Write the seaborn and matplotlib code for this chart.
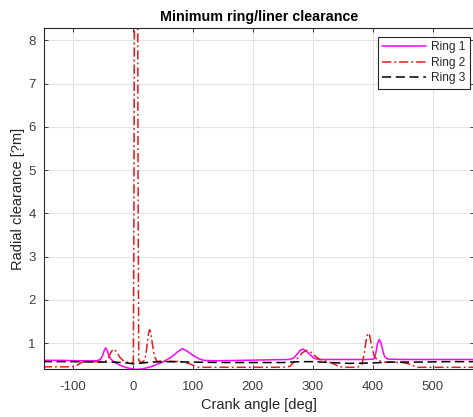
import matplotlib
matplotlib.use("Agg")
import matplotlib.pyplot as plt
import seaborn as sns
import pandas as pd

# ---- data ----
ring1_x = [-150, -120, -90, -60, -54, -50, -47, -45, -43, -40, -36, -30, -20, -10, 0, 5, 15, 30, 50, 65, 75, 83, 90, 100, 110, 118,
           140, 180, 220, 260, 268, 274, 279, 283, 288, 295, 302, 310, 350, 390, 402, 405, 408, 411, 414, 417, 420, 425, 450, 500, 580]
ring1_y = [0.60, 0.60, 0.59, 0.59, 0.62, 0.72, 0.85, 0.89, 0.84, 0.72, 0.62, 0.55, 0.48, 0.43, 0.40, 0.39, 0.40, 0.45, 0.56, 0.68, 0.80, 0.87, 0.82, 0.72, 0.64, 0.60,
           0.59, 0.60, 0.61, 0.62, 0.65, 0.74, 0.83, 0.86, 0.83, 0.74, 0.65, 0.62, 0.62, 0.62, 0.63, 0.75, 0.98, 1.08, 1.00, 0.82, 0.68, 0.63, 0.62, 0.62, 0.62]

ring2_x = [-150, -110, -95, -88, -82, -60, -45, -40, -35, -31, -27, -22, -15, -5, 1, 2, 3, 5.5, 8, 9, 10, 14, 20, 23, 26, 28, 30, 33, 36, 40,
           60, 80, 95, 103, 110, 180, 250, 262, 268, 275, 283, 290, 296, 304, 312, 325, 335, 342, 350, 375, 382, 386, 389, 392, 395, 398, 402, 408,
           420, 450, 460, 468, 475, 580]
ring2_y = [0.45, 0.45, 0.46, 0.53, 0.57, 0.57, 0.58, 0.68, 0.82, 0.86, 0.80, 0.68, 0.58, 0.54, 0.55, 4.0, 10.0, 14.0, 10.0, 4.0, 0.6, 0.55, 0.60, 0.85, 1.20, 1.31, 1.25, 0.95, 0.70, 0.58,
           0.58, 0.57, 0.52, 0.47, 0.44, 0.44, 0.44, 0.46, 0.55, 0.65, 0.78, 0.83, 0.80, 0.70, 0.62, 0.57, 0.52, 0.47, 0.44, 0.44, 0.50, 0.75, 1.05, 1.23, 1.18, 0.95, 0.72, 0.60,
           0.56, 0.55, 0.52, 0.47, 0.44, 0.44]

ring3_x = [-150, -100, -60, -30, -10, 0, 10, 30, 60, 100, 150, 200, 250, 280, 300, 330, 360, 400, 430, 480, 520, 580]
ring3_y = [0.57, 0.57, 0.56, 0.56, 0.54, 0.52, 0.53, 0.56, 0.57, 0.56, 0.55, 0.55, 0.55, 0.57, 0.57, 0.55, 0.53, 0.54, 0.56, 0.56, 0.57, 0.57]

labels = ["Ring 1", "Ring 2", "Ring 3"]
x_ticks = [-100, 0, 100, 200, 300, 400, 500]
y_ticks = [1, 2, 3, 4, 5, 6, 7, 8]

# ---- plot ----
sns.set_theme(style="whitegrid")
plt.rcParams['font.family'] = ['Liberation Sans', 'DejaVu Sans']
plt.rcParams['axes.unicode_minus'] = False

fig = plt.figure(figsize=(4.73, 4.17), dpi=100)
W, H = 473, 417
left_px, right_px, top_px, bottom_px = 44, 474, 28, 369
ax = fig.add_axes([left_px / W, 1 - bottom_px / H, (right_px - left_px) / W, (bottom_px - top_px) / H])
ax.set_facecolor("white")

sns.lineplot(x=ring1_x, y=ring1_y, ax=ax, color=(1, 0, 1), lw=1.1, label=labels[0], estimator=None, sort=False)
sns.lineplot(x=ring2_x, y=ring2_y, ax=ax, color=(0.9, 0.1, 0.1), lw=1.1, label=labels[1], estimator=None, sort=False,
             linestyle=(0, (6, 2, 1.2, 2)))
sns.lineplot(x=ring3_x, y=ring3_y, ax=ax, color="black", lw=1.1, label=labels[2], estimator=None, sort=False,
             linestyle=(0, (6, 3)))

ax.set_xlim(-148, 569)
ax.set_ylim(0.4, 8.285)
ax.set_xticks(x_ticks)
ax.set_yticks(y_ticks)
ax.grid(True, color="#e3e3e3", linewidth=0.8)
for s in ax.spines.values():
    s.set_color("#262626")
    s.set_linewidth(0.8)
ax.tick_params(direction="in", length=3, width=0.6, colors="#262626", labelsize=9.5,
               top=True, right=True, bottom=True, left=True)
ax.tick_params(axis="x", pad=9)
ax.tick_params(axis="y", pad=6)
for lab in ax.get_xticklabels() + ax.get_yticklabels():
    lab.set_color("#404040")

ax.set_xlabel("Crank angle [deg]", fontsize=10.5, color="#262626", labelpad=3)
ax.set_ylabel("Radial clearance [?m]", fontsize=10.5, color="#262626", labelpad=2)
ax.set_title("Minimum ring/liner clearance", fontsize=10.3, fontweight="bold", color="black", pad=5)

leg = ax.legend(loc="upper left", bbox_to_anchor=(378 / W, 1 - 37 / H), bbox_transform=fig.transFigure,
                frameon=True, fancybox=False, edgecolor="#262626", facecolor="white", framealpha=1,
                fontsize=8.6, handlelength=3.7, handletextpad=0.4, borderpad=0.35, labelspacing=0.3,
                borderaxespad=0)
leg.get_frame().set_linewidth(0.8)

fig.savefig("out.png", dpi=100)
